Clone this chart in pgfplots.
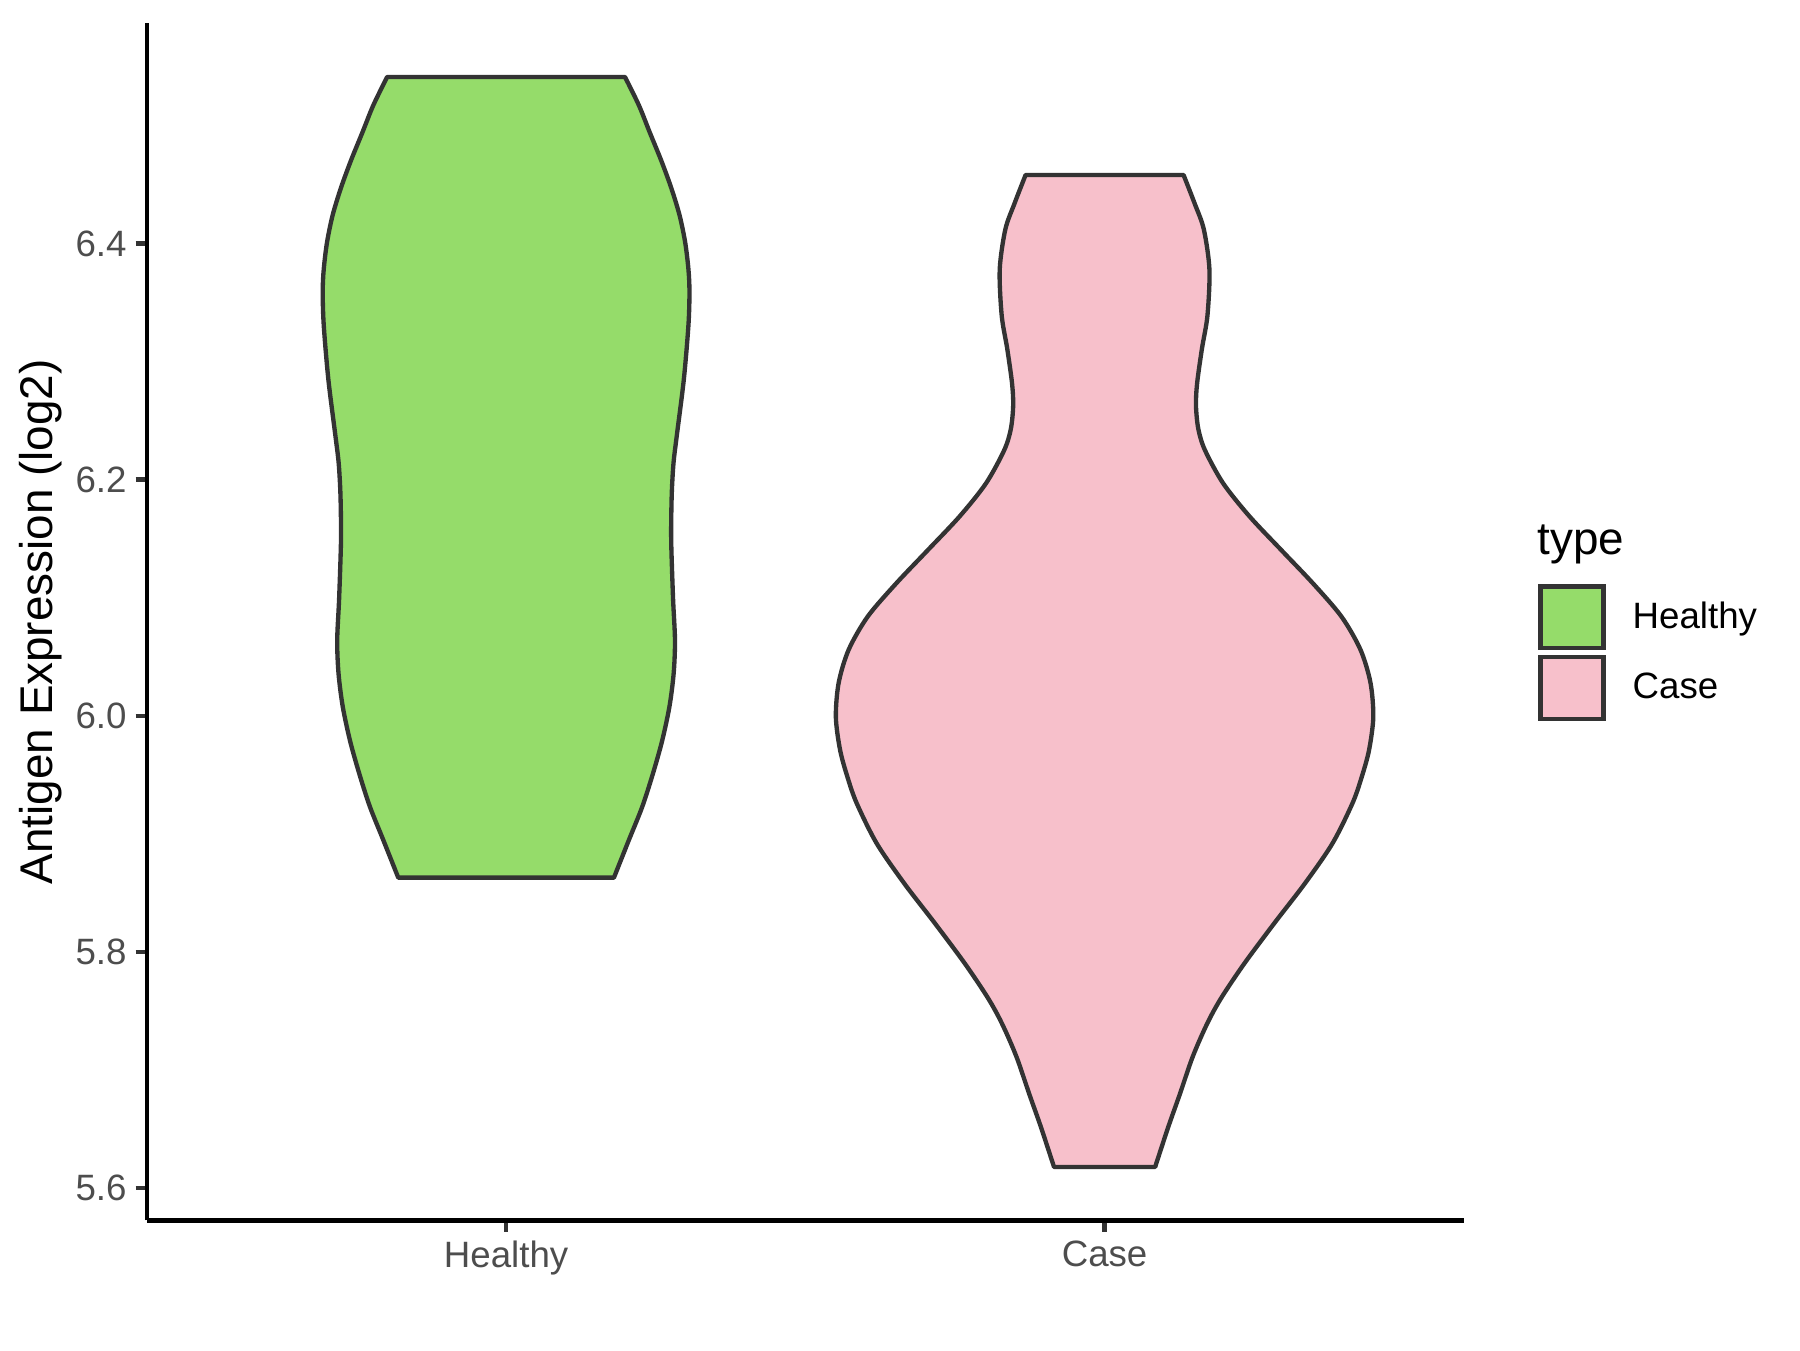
\documentclass[border=0pt]{standalone}
\usepackage{fontspec}
\setmainfont{Liberation Sans}
\usepackage{pgfplots}
\usepackage{pgfplotstable}
\pgfplotsset{compat=1.18}
\usepgfplotslibrary{fillbetween}
\definecolor{hgreen}{HTML}{95DC6A}
\definecolor{cpink}{HTML}{F7C0CB}
\definecolor{outl}{HTML}{333333}
\definecolor{ticklab}{HTML}{4D4D4D}
\pgfplotsset{violinkey/.style={legend image code/.code={\draw[##1] (0pt,-9.25pt) rectangle (18.9pt,9.25pt); \path (27pt,0pt);}}}

% violin outlines: value v, half-width hw (in category units)
\pgfplotstableread{
v hw
6.541 0.1987
6.517 0.2219
6.494 0.2401
6.470 0.2594
6.447 0.2760
6.424 0.2898
6.401 0.2992
6.378 0.3047
6.359 0.3064
6.331 0.3047
6.285 0.2970
6.238 0.2854
6.215 0.2799
6.192 0.2771
6.169 0.2760
6.145 0.2760
6.099 0.2790
6.064 0.2822
6.036 0.2800
6.008 0.2730
5.979 0.2608
5.951 0.2453
5.923 0.2275
5.895 0.2053
5.863 0.1802
}\healthy

\pgfplotstableread{
v hw
6.458 0.1320
6.434 0.1504
6.412 0.1658
6.378 0.1752
6.339 0.1719
6.311 0.1627
6.282 0.1547
6.263 0.1527
6.243 0.1566
6.225 0.1677
6.197 0.1980
6.169 0.2420
6.140 0.2960
6.112 0.3485
6.084 0.3959
6.056 0.4276
6.028 0.4443
5.999 0.4490
5.971 0.4419
5.948 0.4295
5.926 0.4142
5.892 0.3808
5.858 0.3346
5.825 0.2845
5.791 0.2345
5.764 0.1985
5.747 0.1790
5.730 0.1628
5.709 0.1455
5.680 0.1260
5.652 0.1065
5.618 0.0845
}\caseviolin

\begin{document}
\begin{tikzpicture}
\begin{axis}[
  scale only axis, width=395pt, height=359.2pt,
  xmin=0.4, xmax=2.6, ymin=5.5728, ymax=6.5867,
  clip=false,
  axis x line*=bottom, axis y line*=left,
  axis line style={black, line width=1.3pt},
  xtick={1,2}, xticklabels={Healthy,Case},
  ytick={5.6,5.8,6.0,6.2,6.4},
  yticklabel style={/pgf/number format/.cd, fixed, fixed zerofill, precision=1},
  /pgf/number format/assume math mode=true,
  tick label style={font=\fontsize{11}{13}\selectfont, text=ticklab, inner sep=2.5pt},
  tick align=outside, major tick length=3.44pt,
  tick style={outl, line width=1.3pt},
  ylabel={Antigen Expression (log2)},
  every axis y label/.style={at={(axis description cs:-0.081,0.5)}, rotate=90, anchor=center, font=\fontsize{13.75}{16}\selectfont},
  legend style={at={(axis description cs:1.0567,0.5312)}, anchor=north west,
    draw=none, fill=none, inner sep=0pt, outer sep=0pt, row sep=1.4pt,
    font=\fontsize{11}{13}\selectfont,
    nodes={inner sep=0pt}},
  legend cell align=left,
]
\addlegendimage{violinkey, fill=hgreen, draw=outl, line width=1.3pt}
\addlegendentry{Healthy}
\addlegendimage{violinkey, fill=cpink, draw=outl, line width=1.3pt}
\addlegendentry{Case}

\addplot[name path=HL, draw=none, smooth, tension=0.5, forget plot] table[x expr=1-\thisrow{hw}, y=v] {\healthy};
\addplot[name path=HR, draw=none, smooth, tension=0.5, forget plot] table[x expr=1+\thisrow{hw}, y=v] {\healthy};
\addplot[fill=hgreen, draw=outl, line width=1.3pt, line join=round, forget plot] fill between[of=HL and HR, reverse=true];

\addplot[name path=CL, draw=none, smooth, tension=0.5, forget plot] table[x expr=2-\thisrow{hw}, y=v] {\caseviolin};
\addplot[name path=CR, draw=none, smooth, tension=0.5, forget plot] table[x expr=2+\thisrow{hw}, y=v] {\caseviolin};
\addplot[fill=cpink, draw=outl, line width=1.3pt, line join=round, forget plot] fill between[of=CL and CR, reverse=true];

\node[anchor=base west, font=\fontsize{13.75}{16}\selectfont, inner sep=0pt] at (axis description cs:1.0557,0.5563) {type};
\end{axis}
\path (-44.1pt,-38.9pt) rectangle (495.9pt,366.1pt);
\end{tikzpicture}
\end{document}
